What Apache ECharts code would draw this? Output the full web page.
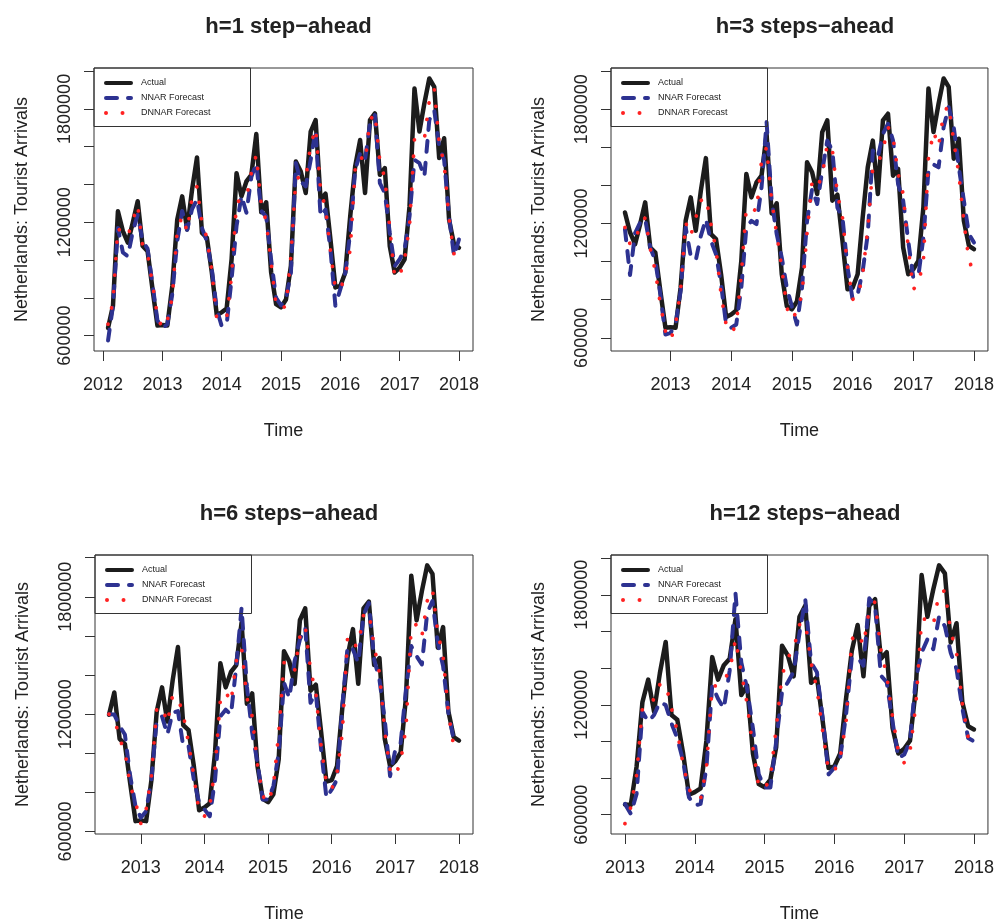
<!DOCTYPE html>
<html><head><meta charset="utf-8">
<script src="https://cdn.jsdelivr.net/npm/echarts@6/dist/echarts.min.js"></script>
<style>html,body{margin:0;padding:0;background:#fff}#c{width:997px;height:924px}</style>
</head><body><div id="c"></div>
<script>
// ---------- DATA ----------
const months = [
 '2012-02','2012-03','2012-04','2012-05','2012-06','2012-07','2012-08','2012-09','2012-10','2012-11','2012-12',
 '2013-01','2013-02','2013-03','2013-04','2013-05','2013-06','2013-07','2013-08','2013-09','2013-10','2013-11','2013-12',
 '2014-01','2014-02','2014-03','2014-04','2014-05','2014-06','2014-07','2014-08','2014-09','2014-10','2014-11','2014-12',
 '2015-01','2015-02','2015-03','2015-04','2015-05','2015-06','2015-07','2015-08','2015-09','2015-10','2015-11','2015-12',
 '2016-01','2016-02','2016-03','2016-04','2016-05','2016-06','2016-07','2016-08','2016-09','2016-10','2016-11','2016-12',
 '2017-01','2017-02','2017-03','2017-04','2017-05','2017-06','2017-07','2017-08','2017-09','2017-10','2017-11','2017-12',
 '2018-01'];

const actual = [
 640000, 758000, 1258000, 1153000, 1092000, 1197000, 1311000, 1074000, 1047000, 846000, 653000, 656000,
 653000, 863000, 1214000, 1337000, 1162000, 1372000, 1543000, 1144000, 1118000, 934000, 709000, 723000,
 744000, 1004000, 1460000, 1337000, 1416000, 1451000, 1667000, 1253000, 1306000, 934000, 767000, 750000,
 791000, 969000, 1522000, 1469000, 1355000, 1680000, 1741000, 1320000, 1351000, 1109000, 855000, 863000,
 934000, 1232000, 1495000, 1635000, 1355000, 1741000, 1776000, 1451000, 1487000, 1074000, 934000, 960000,
 1004000, 1285000, 1908000, 1680000, 1829000, 1961000, 1917000, 1540000, 1645000, 1214000, 1083000, 1065000];

// h=1 (from 2012-02)
const nnarH1 = [
 574000, 758000, 1170000, 1040000, 1020000, 1150000, 1240000, 1100000, 1060000, 870000, 680000, 640000,
 660000, 820000, 1100000, 1260000, 1160000, 1270000, 1320000, 1170000, 1100000, 950000, 740000, 650000,
 660000, 900000, 1180000, 1340000, 1250000, 1440000, 1513000, 1260000, 1230000, 1000000, 800000, 760000,
 793000, 933000, 1513000, 1416000, 1390000, 1530000, 1688000, 1232000, 1267000, 1056000, 758000, 846000,
 933000, 1144000, 1478000, 1565000, 1530000, 1723000, 1767000, 1407000, 1355000, 1144000, 968000, 1004000,
 1056000, 1232000, 1530000, 1513000, 1442000, 1741000, 1793000, 1600000, 1530000, 1232000, 1021000, 1109000];
const dnnarH1 = [
 661000, 780000, 1170000, 1135000, 1126000, 1209000, 1290000, 1074000, 1030000, 875000, 700000, 639000,
 680000, 805000, 1158000, 1232000, 1153000, 1328000, 1390000, 1197000, 1118000, 942000, 688000, 677000,
 696000, 916000, 1305000, 1320000, 1330000, 1463000, 1556000, 1293000, 1205000, 986000, 758000, 740000,
 758000, 1021000, 1430000, 1442000, 1434000, 1609000, 1697000, 1370000, 1276000, 1048000, 846000, 846000,
 916000, 1056000, 1478000, 1548000, 1521000, 1741000, 1776000, 1521000, 1434000, 1170000, 907000, 916000,
 1004000, 1179000, 1640000, 1660000, 1640000, 1842000, 1907000, 1620000, 1510000, 1220000, 1030000, 1040000];

// h=3 (from 2012-04)
const nnarH3 = [
 1170000, 930000, 1150000, 1205000, 1223000, 1074000, 1004000, 828000, 617000, 626000,
 670000, 846000, 1179000, 1030000, 1007000, 1135000, 1223000, 1109000, 1039000, 881000,
 670000, 653000, 670000, 863000, 1179000, 1214000, 1197000, 1390000, 1732000, 1320000,
 1144000, 1021000, 863000, 765000, 670000, 863000, 1214000, 1381000, 1302000, 1477000,
 1635000, 1583000, 1284000, 1232000, 968000, 802000, 828000, 951000, 1144000, 1583000,
 1548000, 1671000, 1723000, 1635000, 1407000, 1320000, 1109000, 916000, 925000, 1126000,
 1477000, 1510000, 1495000, 1706000, 1811000, 1706000, 1495000, 1320000, 1144000, 1100000];
const dnnarH3 = [
 1179000, 1091000, 1100000, 1197000, 1230000, 1069000, 950000, 776000, 635000, 586000,
 670000, 849000, 1205000, 1135000, 1230000, 1320000, 1337000, 1197000, 1065000, 828000,
 670000, 626000, 665000, 933000, 1284000, 1284000, 1263000, 1530000, 1600000, 1320000,
 1144000, 968000, 758000, 697000, 740000, 828000, 1150000, 1420000, 1390000, 1451000,
 1618000, 1586000, 1355000, 1232000, 977000, 802000, 811000, 933000, 1170000, 1495000,
 1513000, 1586000, 1706000, 1653000, 1460000, 1355000, 1074000, 855000, 881000, 1004000,
 1540000, 1683000, 1604000, 1780000, 1820000, 1632000, 1460000, 1214000, 1004000, 947000];

// h=6 (from 2012-07)
const nnarH6 = [
 1200000, 1198000, 1139000, 1096000, 883000, 730000, 670000, 704000, 865000, 1172000,
 1188000, 1096000, 1207000, 1216000, 1036000, 1036000, 865000, 747000, 713000, 678000,
 865000, 1189000, 1223000, 1198000, 1445000, 1744000, 1343000, 1105000, 951000, 763000,
 763000, 832000, 1002000, 1360000, 1283000, 1471000, 1582000, 1641000, 1258000, 1309000,
 1019000, 772000, 815000, 866000, 1240000, 1548000, 1531000, 1463000, 1708000, 1769000,
 1480000, 1377000, 1173000, 883000, 1019000, 1053000, 1326000, 1548000, 1497000, 1454000,
 1718000, 1778000, 1565000, 1446000, 1207000, 1071000, 1071000];
const dnnarH6 = [
 1200000, 1181000, 1073000, 1011000, 834000, 750000, 640000, 713000, 883000, 1227000,
 1240000, 1156000, 1297000, 1283000, 1198000, 1053000, 883000, 699000, 678000, 730000,
 925000, 1275000, 1315000, 1261000, 1471000, 1539000, 1283000, 1189000, 942000, 781000,
 747000, 832000, 1104000, 1463000, 1463000, 1420000, 1598000, 1650000, 1428000, 1309000,
 1036000, 849000, 815000, 900000, 1105000, 1598000, 1551000, 1551000, 1708000, 1721000,
 1548000, 1411000, 1113000, 917000, 883000, 959000, 1129000, 1650000, 1658000, 1598000,
 1778000, 1838000, 1615000, 1497000, 1207000, 1036000, 989000];

// h=12 (from 2013-01)
const nnarH12 = [
 659000, 605000, 713000, 1162000, 1108000, 1144000, 1215000, 1198000, 1098000, 1018000,
 892000, 695000, 650000, 659000, 856000, 1305000, 1233000, 1180000, 1386000, 1808000,
 1431000, 1287000, 1072000, 820000, 749000, 749000, 1000000, 1269000, 1323000, 1380000,
 1590000, 1775000, 1430000, 1377000, 1125000, 820000, 856000, 910000, 1144000, 1457000,
 1457000, 1413000, 1781000, 1736000, 1359000, 1323000, 1107000, 910000, 928000, 1000000,
 1341000, 1485000, 1557000, 1503000, 1682000, 1628000, 1484000, 1395000, 1180000, 1018000, 1000000];
const dnnarH12 = [
 551000, 641000, 817000, 1180000, 1185000, 1233000, 1311000, 1314000, 1180000, 1054000,
 874000, 740000, 691000, 686000, 856000, 1305000, 1301000, 1332000, 1386000, 1557000,
 1377000, 1206000, 964000, 753000, 740000, 803000, 1072000, 1359000, 1458000, 1503000,
 1637000, 1650000, 1430000, 1287000, 1054000, 839000, 839000, 910000, 1102000, 1557000,
 1593000, 1526000, 1718000, 1763000, 1499000, 1359000, 1135000, 946000, 883000, 946000,
 1197000, 1667000, 1667000, 1634000, 1812000, 1822000, 1601000, 1484000, 1206000, 1021000, 1009000];

const panelTitles = ['h=1 step\u2212ahead', 'h=3 steps\u2212ahead', 'h=6 steps\u2212ahead', 'h=12 steps\u2212ahead'];
const panelStarts = ['2012-02', '2012-04', '2012-07', '2013-01'];
const xTickYears = [2012, 2013, 2014, 2015, 2016, 2017, 2018];
const yTickValues = [600000, 800000, 1000000, 1200000, 1400000, 1600000, 1800000, 2000000];
const yLabelValues = [600000, 1200000, 1800000];
const seriesNames = ['Actual', 'NNAR Forecast', 'DNNAR Forecast'];
const forecasts = [[nnarH1, dnnarH1], [nnarH3, dnnarH3], [nnarH6, dnnarH6], [nnarH12, dnnarH12]];

// ---------- LAYOUT / STYLE ----------
const FONT = '"Liberation Sans", Arial, Helvetica, sans-serif';
const TXT = '#222222';
const boxes = [
  {left: 94, top: 68, width: 379, height: 283, titleTop: 11},
  {left: 611, top: 68, width: 378, height: 283, titleTop: 11},
  {left: 95, top: 555, width: 378, height: 283, titleTop: 498},
  {left: 611, top: 555, width: 378, height: 284, titleTop: 498}
];
const styles = [
  {color: '#1c1c1c', width: 4.5, type: 'solid'},
  {color: '#2d3291', width: 4, type: [11, 11]},
  {color: '#ff2222', width: 3.8, type: [0.01, 16.5]}
];

const toYear = s => { const p = s.split('-').map(Number); return p[0] + (p[1] - 1) / 12; };

const option = {animation: false, backgroundColor: '#ffffff',
  title: [], grid: [], xAxis: [], yAxis: [], legend: [], series: []};

boxes.forEach((b, k) => {
  const off = months.indexOf(panelStarts[k]);
  const ts = months.slice(off).map(toYear);
  const vals = [actual.slice(off), forecasts[k][0], forecasts[k][1]];
  const t0 = ts[0], t1 = ts[ts.length - 1], w = t1 - t0;
  const xmin = t0 - 0.04 * w, xmax = t1 + 0.04 * w;
  const all = vals.flat();
  const vmin = Math.min(...all), vmax = Math.max(...all), r = vmax - vmin;
  const ymin = vmin - 0.04 * r, ymax = vmax + 0.04 * r;
  const xt = xTickYears.filter(v => v >= xmin && v <= xmax);

  option.title.push({text: panelTitles[k], left: b.left + b.width / 2, top: b.titleTop, textAlign: 'center',
    textStyle: {fontFamily: FONT, fontSize: 22, fontWeight: 'bold', color: TXT}});
  option.grid.push({left: b.left, top: b.top, width: b.width, height: b.height, show: true,
    borderColor: '#333', borderWidth: 1, backgroundColor: 'transparent', containLabel: false});
  option.xAxis.push({type: 'value', gridIndex: k, min: xmin, max: xmax,
    axisLine: {show: false, onZero: false},
    axisTick: {show: true, length: 10, customValues: xt, lineStyle: {color: '#333', width: 1}},
    axisLabel: {customValues: xt, formatter: v => String(Math.round(v)), fontFamily: FONT, fontSize: 18, color: TXT, margin: 25},
    splitLine: {show: false},
    name: 'Time', nameLocation: 'middle', nameGap: 71,
    nameTextStyle: {fontFamily: FONT, fontSize: 18, color: TXT}});
  option.yAxis.push({type: 'value', gridIndex: k, min: ymin, max: ymax,
    axisLine: {show: false, onZero: false},
    axisTick: {show: true, length: 10, customValues: yTickValues, lineStyle: {color: '#333', width: 1}},
    axisLabel: {customValues: yLabelValues, formatter: v => String(Math.round(v)), rotate: 90,
      align: 'center', verticalAlign: 'bottom', fontFamily: FONT, fontSize: 18, color: TXT, margin: 20},
    splitLine: {show: false},
    name: 'Netherlands: Tourist Arrivals', nameLocation: 'middle', nameGap: 63, nameRotate: 90,
    nameTextStyle: {fontFamily: FONT, fontSize: 18, color: TXT}});
  option.legend.push({left: b.left, top: b.top, orient: 'vertical', backgroundColor: 'transparent',
    borderColor: '#333', borderWidth: 1, borderRadius: 0, padding: [10.5, 40, 9, 10], itemGap: 6,
    itemWidth: 25, itemHeight: 11, selectedMode: false, itemStyle: {opacity: 0},
    lineStyle: {width: 4, cap: 'round'},
    textStyle: {fontFamily: FONT, fontSize: 9, color: TXT, padding: [0, 0, 0, 5]},
    data: seriesNames});
  vals.forEach((arr, s) => {
    option.series.push({type: 'line', name: seriesNames[s], xAxisIndex: k, yAxisIndex: k,
      data: arr.map((v, i) => [ts[i], v]), symbol: 'none', showSymbol: false, silent: true,
      lineStyle: {color: styles[s].color, width: styles[s].width, type: styles[s].type, cap: 'round', join: 'round'},
      itemStyle: {color: styles[s].color}, z: 2 + s});
  });
});

const chart = echarts.init(document.getElementById('c'), null, {renderer: 'canvas'});
chart.setOption(option);
</script></body></html>
